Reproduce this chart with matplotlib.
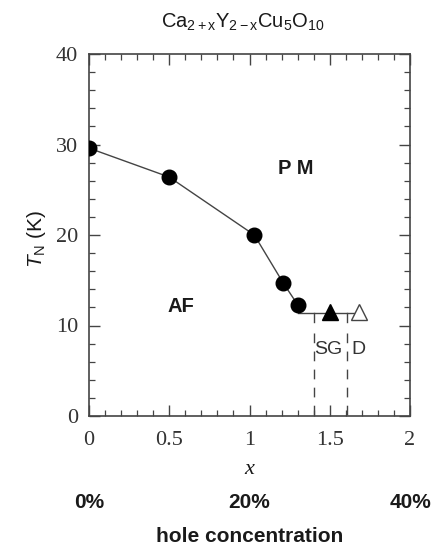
import matplotlib
matplotlib.use('Agg')
import matplotlib.pyplot as plt
import matplotlib.transforms as mtransforms
from matplotlib.ticker import MultipleLocator

plt.rcParams['mathtext.fontset'] = 'custom'
plt.rcParams['mathtext.rm'] = 'Liberation Sans'
plt.rcParams['mathtext.it'] = 'Liberation Sans:italic'
plt.rcParams['mathtext.bf'] = 'Liberation Sans:bold'

# data
x_af = [0.0, 0.5, 1.03, 1.21, 1.30]
tn_af = [29.6, 26.4, 20.0, 14.7, 12.3]

x_sg = [1.50]
tn_sg = [11.5]
x_d = [1.68]
tn_d = [11.5]

line_y = 11.4
bound_x = [1.40, 1.61]

pct_x = [0, 1, 2]
pct_labels = ['0%', '20%', '40%']

W, H = 438, 547
fig = plt.figure(figsize=(W/100, H/100), dpi=100)
ax = fig.add_axes([89/W, 1-416/H, (410-89)/W, (416-54)/H])

gray = '#444444'
ax.plot(x_af, tn_af, '-', color=gray, lw=1.0, zorder=2)
ax.plot([x_af[-1], x_d[0]], [line_y, line_y], '-', color=gray, lw=1.0, zorder=2)
ax.plot(x_af, tn_af, 'o', color='black', ms=10.5, zorder=3)
ax.plot(x_sg, tn_sg, '^', color='black', ms=12, zorder=3)
ax.plot(x_d, tn_d, '^', mfc='white', mec=gray, mew=1.0, ms=12, zorder=3)

for bx in bound_x:
    ax.plot([bx, bx], [line_y, line_y-1.0], '-', color=gray, lw=1.0)
    ax.plot([bx, bx], [line_y-2.2, 0], color=gray, lw=1.0, linestyle=(0, (7, 6)))

sans = ['Liberation Sans', 'DejaVu Sans']
serif = ['Liberation Serif', 'DejaVu Serif']
txt = '#1a1a1a'
ax.text(1.29, 27.4, 'P M', fontsize=14.5, family=sans, weight='bold', ha='center', va='center', color=txt)
ax.text(0.57, 12.1, 'AF', fontsize=14.5, family=sans, weight='bold', ha='center', va='center', color=txt)
ax.text(1.49, 7.3, 'SG', fontsize=14, family=sans, ha='center', va='center', color='#333333')
ax.text(1.68, 7.3, 'D', fontsize=14, family=sans, ha='center', va='center', color='#333333')

ax.set_xlim(0, 2)
ax.set_ylim(0, 40)
ax.xaxis.set_minor_locator(MultipleLocator(0.1))
ax.yaxis.set_major_locator(MultipleLocator(10))
ax.yaxis.set_minor_locator(MultipleLocator(2))
ax.set_xticks([0, 0.5, 1, 1.5, 2])
ax.set_xticklabels(['0', '0.5', '1', '1.5', '2'])
ax.tick_params(which='both', direction='in', top=True, right=True, color=gray)
ax.tick_params(which='major', length=8, width=1.0, labelsize=16)
ax.tick_params(axis='x', which='major', pad=11)
ax.tick_params(axis='y', which='major', pad=8)
ax.tick_params(which='minor', length=4.5, width=0.9)
for lab in ax.get_xticklabels() + ax.get_yticklabels():
    lab.set_family(serif)
    lab.set_color('#333333')
for sp in ax.spines.values():
    sp.set_color(gray)
    sp.set_linewidth(1.2)

# axis labels and title placed in figure pixels
fig.text(249/W, 1-470/H, 'x', fontsize=16, family=serif, style='italic',
         ha='center', va='center', color=txt)
fig.text(36/W, 1-239/H, '$T_\\mathrm{N}$ (K)', fontsize=15, family=sans, rotation=90,
         ha='center', va='center', color=txt)
fig.text(243/W, 1-22/H, 'Ca$_\\mathrm{2+x}$Y$_\\mathrm{2-x}$Cu$_\\mathrm{5}$O$_\\mathrm{10}$',
         fontsize=14.5, family=sans, ha='center', va='center', color=txt)

trans = mtransforms.blended_transform_factory(ax.transData, fig.transFigure)
for px, pl in zip(pct_x, pct_labels):
    ax.text(px, 1-502/H, pl, transform=trans, fontsize=15, family=sans, weight='bold',
            ha='center', va='center', color=txt, clip_on=False)
ax.text(1.0, 1-537/H, 'hole concentration', transform=trans, fontsize=15, family=sans,
        weight='bold', ha='center', va='center', color=txt, clip_on=False)

fig.savefig('out.png', dpi=100)
